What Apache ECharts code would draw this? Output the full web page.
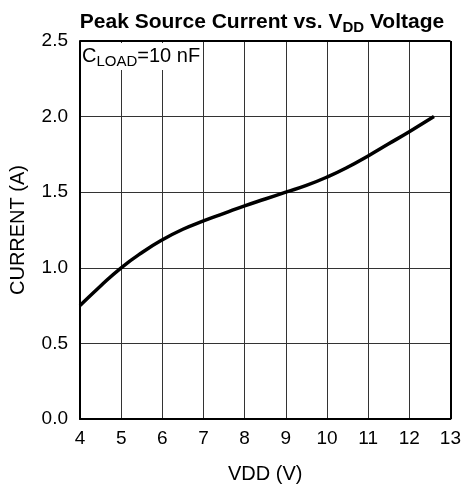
<!DOCTYPE html>
<html><head><meta charset="utf-8">
<script src="https://cdn.jsdelivr.net/npm/echarts@6/dist/echarts.min.js"></script>
<style>html,body{margin:0;padding:0;background:#fff}#c{width:464px;height:489px}</style>
</head><body><div id="c"></div>
<script>
const vdd = [4, 4.5, 5, 5.5, 6, 6.5, 7, 7.5, 8, 8.5, 9, 9.5, 10, 10.5, 11, 11.5, 12, 12.6];
const current = [0.75, 0.88, 1.0, 1.10, 1.185, 1.255, 1.31, 1.36, 1.41, 1.455, 1.5, 1.545, 1.60, 1.665, 1.74, 1.82, 1.90, 2.0];
const xTicks = [4, 13, 1];
const yTicks = [0, 2.5, 0.5];
const font = 'Liberation Sans, Arial, sans-serif';
const chart = echarts.init(document.getElementById('c'));
chart.setOption({
  animation: false,
  title: {
    text: '{t|Peak Source Current vs. V}{s|DD}{t| Voltage}',
    left: 257, top: 5, textAlign: 'center',
    textStyle: { rich: {
      t: { fontFamily: font, fontWeight: 'bold', fontSize: 21, color: '#000' },
      s: { fontFamily: font, fontWeight: 'bold', fontSize: 15, color: '#000', padding: [10, 0, 0, 0] }
    } }
  },
  graphic: [{
    type: 'text', left: 81, top: 43, z: 100,
    style: {
      text: '{t|C}{s|LOAD}{t|=10 nF}',
      backgroundColor: '#fff', padding: [1, 2, 1, 1],
      rich: {
        t: { fontFamily: font, fontSize: 20, color: '#000' },
        s: { fontFamily: font, fontSize: 15, color: '#000', padding: [10, 0, 0, 0] }
      }
    }
  }],
  grid: { left: 80, right: 12, top: 41, bottom: 70, containLabel: false },
  xAxis: {
    type: 'value', min: xTicks[0], max: xTicks[1], interval: xTicks[2],
    name: 'VDD (V)', nameLocation: 'middle', nameGap: 45,
    nameTextStyle: { fontFamily: font, fontSize: 20, color: '#000' },
    axisLine: { show: true, lineStyle: { color: '#000', width: 2 } },
    axisTick: { show: false },
    axisLabel: { fontFamily: font, fontSize: 19, color: '#000', margin: 10 },
    splitLine: { show: true, lineStyle: { color: '#333', width: 1 } }
  },
  yAxis: {
    type: 'value', min: yTicks[0], max: yTicks[1], interval: yTicks[2],
    name: 'CURRENT (A)', nameLocation: 'middle', nameGap: 52, nameRotate: 90,
    nameTextStyle: { fontFamily: font, fontSize: 20, color: '#000' },
    axisLine: { show: true, lineStyle: { color: '#000', width: 2 } },
    axisTick: { show: false },
    axisLabel: { fontFamily: font, fontSize: 19, color: '#000', margin: 12,
      formatter: v => v.toFixed(1) },
    splitLine: { show: true, lineStyle: { color: '#333', width: 1 } }
  },
  series: [
    { type: 'line', data: vdd.map((x, i) => [x, current[i]]), smooth: 0.5,
      showSymbol: false, lineStyle: { color: '#000', width: 3.5 }, z: 5 },
    { type: 'line', data: [], markLine: { silent: true, symbol: 'none', label: { show: false },
      lineStyle: { color: '#000', width: 2, type: 'solid' },
      data: [[{ coord: [13, 0] }, { coord: [13, 2.5] }], [{ coord: [4, 2.5] }, { coord: [13, 2.5] }]] } }
  ]
});
</script></body></html>
